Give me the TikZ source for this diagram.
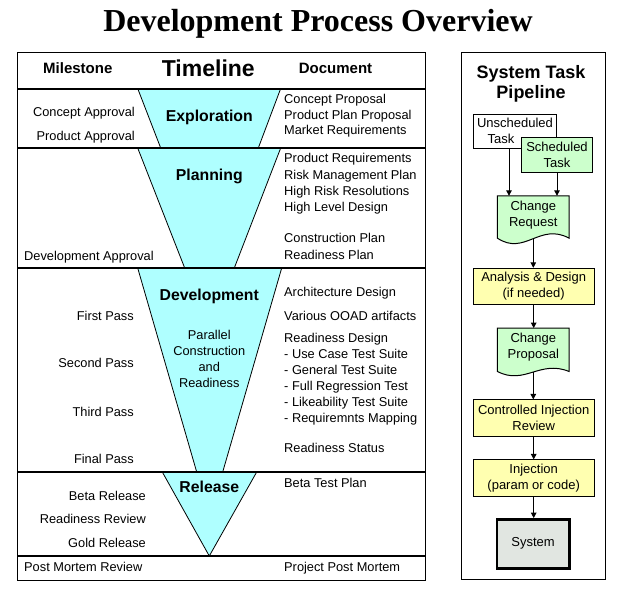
\documentclass[tikz,border=0pt]{standalone}
\usepackage{fontspec}
\setmainfont{Liberation Sans}
\newfontfamily\titlefont{Liberation Serif}
\usetikzlibrary{arrows.meta,calc}
\definecolor{funnelc}{RGB}{175,255,255}
\definecolor{greenc}{RGB}{204,255,204}
\definecolor{yellowc}{RGB}{255,255,176}
\definecolor{sysc}{RGB}{225,230,225}
\begin{document}
\begin{tikzpicture}[x=1pt,y=-1pt,
  body/.style={font=\fontsize{12.8}{16}\selectfont, inner sep=0pt, text height=9.2pt, text depth=0pt},
  ms/.style={body, anchor=east},
  dc/.style={body, anchor=west},
  phase/.style={font=\bfseries\fontsize{15.8}{18}\selectfont, inner sep=0pt, text height=11.3pt, text depth=0pt},
  hdr/.style={font=\bfseries\fontsize{15}{18}\selectfont, inner sep=0pt, text height=10.7pt, text depth=0pt},
  funnel/.style={fill=funnelc, draw=black, line width=0.8pt},
  sepline/.style={line width=2pt},
  frame/.style={line width=1pt},
  pbox/.style={draw=black, line width=1pt, inner sep=0pt, font=\fontsize{13}{16}\selectfont, align=center},
  ptext/.style={inner sep=0pt, font=\fontsize{13}{16}\selectfont, align=center},
  docshape/.style={fill=greenc, draw=black, line width=1pt},
  arr/.style={line width=1pt, -{Triangle[length=5.5pt,width=5.5pt]}}
]
\useasboundingbox (0,0) rectangle (625,595);

% title
\node[font=\titlefont\bfseries\fontsize{32}{36}\selectfont, inner sep=0pt, text height=21.2pt, text depth=0pt] (title) at (318,21.3) {Development Process Overview};

% ---------- left panel ----------
\draw[frame] (17.3,52) rectangle (425,580);

% funnels
\filldraw[funnel] (137.7,88.5) -- (280.7,88.5) -- (258.3,148) -- (160.7,148) -- cycle;
\filldraw[funnel] (137.7,148) -- (280.7,148) -- (234.3,268) -- (184.7,268) -- cycle;
\filldraw[funnel] (137.7,268) -- (281.7,268) -- (222.7,472) -- (196.7,472) -- cycle;
\filldraw[funnel] (162.3,472) -- (256.7,472) -- (209.3,556) -- cycle;

% separators
\foreach \yy in {88.5,148,268,472,556}
  \draw[sepline] (17.3,\yy) -- (425,\yy);

% header
\node[hdr] (hmile) at (77.8,68.3) {Milestone};
\node[font=\bfseries\fontsize{23}{26}\selectfont, inner sep=0pt, text height=16.5pt, text depth=0pt] (htime) at (208.3,68.5) {Timeline};
\node[hdr] (hdoc) at (335.5,68.3) {Document};

% Exploration
\node[ms] (m1) at (135,111.7) {Concept Approval};
\node[ms] (m2) at (135,135.7) {Product Approval};
\node[phase] (pexp) at (209.3,115.7) {Exploration};
\node[dc] (d1) at (284,99) {Concept Proposal};
\node[dc] (d2) at (284,114.5) {Product Plan Proposal};
\node[dc] (d3) at (284,130) {Market Requirements};

% Planning
\node[phase] (pplan) at (209.3,175) {Planning};
\node[dc] (d4) at (284,158.3) {Product Requirements};
\node[dc] (d5) at (284,174.7) {Risk Management Plan};
\node[dc] (d6) at (284,190.7) {High Risk Resolutions};
\node[dc] (d7) at (284,206.7) {High Level Design};
\node[dc] (d8) at (284,238.3) {Construction Plan};
\node[dc] (d9) at (284,255) {Readiness Plan};
\node[body, anchor=west] (m3) at (24,255.7) {Development Approval};

% Development
\node[phase] (pdev) at (209.3,295) {Development};
\node[inner sep=0pt, font=\fontsize{12.8}{16}\selectfont, align=center] (par) at (209.3,358.5) {Parallel\\Construction\\and\\Readiness};
\node[ms] (m4) at (134,315.7) {First Pass};
\node[ms] (m5) at (134,363.3) {Second Pass};
\node[ms] (m6) at (134,411.7) {Third Pass};
\node[ms] (m7) at (134,459.3) {Final Pass};
\node[dc] (d10) at (284,291.7) {Architecture Design};
\node[dc] (d11) at (284,315.7) {Various OOAD artifacts};
\node[dc] (d12) at (284,338.3) {Readiness Design};
\node[dc] (d13) at (284,354.3) {- Use Case Test Suite};
\node[dc] (d14) at (284,370.3) {- General Test Suite};
\node[dc] (d15) at (284,386.3) {- Full Regression Test};
\node[dc] (d16) at (284,402.3) {- Likeability Test Suite};
\node[dc] (d17) at (284,418.3) {- Requiremnts Mapping};
\node[dc] (d18) at (284,447.7) {Readiness Status};

% Release
\node[phase] (prel) at (209.3,487.3) {Release};
\node[ms] (m8) at (146,495.7) {Beta Release};
\node[ms] (m9) at (146,519.3) {Readiness Review};
\node[ms] (m10) at (146,543.3) {Gold Release};
\node[dc] (d19) at (284,483.3) {Beta Test Plan};
\node[body, anchor=west] (m11) at (24,567.3) {Post Mortem Review};
\node[dc] (d20) at (284,567.3) {Project Post Mortem};

% ---------- right panel ----------
\draw[frame] (461.7,52.5) rectangle (605,579.5);
\node[font=\bfseries\fontsize{18}{20}\selectfont, inner sep=0pt, align=center] (ptitle) at (531,84) {System Task\\Pipeline};

\node[pbox, fill=white, minimum width=83.5pt, minimum height=34.3pt] (us) at (515,131.2) {Unscheduled\\Task\hspace*{28pt}};
\node[pbox, fill=greenc, minimum width=71pt, minimum height=35.5pt] (ss) at (557,155) {Scheduled\\Task};

% Change Request (document shape)
\node[minimum width=71.3pt, minimum height=42pt, inner sep=0pt] (cr) at (533.3,217) {};
\filldraw[docshape] (cr.south east) -- (cr.north east) -- (cr.north west) -- (cr.south west)
  .. controls ($(cr.south west)+(27.3,18)$) and ($(cr.south west)+(42.3,-16)$) .. (cr.south east) -- cycle;
\node[ptext] (crt) at (533.3,215) {Change\\Request};

\node[pbox, fill=yellowc, minimum width=120.7pt, minimum height=35.7pt] (ad) at (533.7,286.2) {Analysis \& Design\\(if needed)};

% Change Proposal (document shape)
\node[minimum width=71.3pt, minimum height=43pt, inner sep=0pt] (cp) at (533.3,349.8) {};
\filldraw[docshape] (cp.south east) -- (cp.north east) -- (cp.north west) -- (cp.south west)
  .. controls ($(cp.south west)+(27.3,14)$) and ($(cp.south west)+(42.3,-12)$) .. (cp.south east) -- cycle;
\node[ptext] (cpt) at (533.3,347) {Change\\Proposal};

\node[pbox, fill=yellowc, minimum width=120.7pt, minimum height=36.7pt] (cir) at (533.7,418.3) {Controlled Injection\\Review};
\node[pbox, fill=yellowc, minimum width=120.7pt, minimum height=36.7pt] (inj) at (533.7,478.3) {Injection\\(param or code)};
\node[pbox, fill=sysc, line width=2.4pt, minimum width=72.6pt, minimum height=49pt] (sys) at (533,543.8) {System};

% connectors
\draw[arr] ([xshift=-6pt]us.south) -- ([xshift=-6pt]us.south |- cr.north);
\draw[arr] (ss.south) -- (ss.south |- cr.north);
\draw[arr] (cr.south) -- (cr.south |- ad.north);
\draw[arr] (ad.south) -- (ad.south |- cp.north);
\draw[arr] (cp.south) -- (cp.south |- cir.north);
\draw[arr] (cir.south) -- (cir.south |- inj.north);
\draw[arr] (inj.south) -- (inj.south |- sys.north);
\end{tikzpicture}
\end{document}
